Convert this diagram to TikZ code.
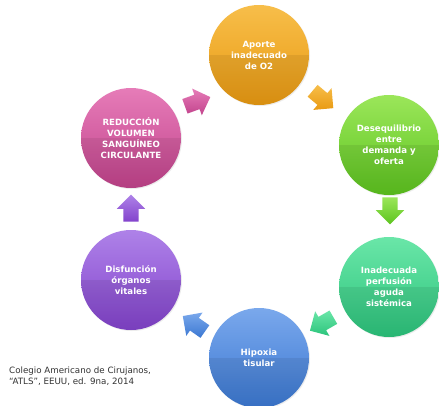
\documentclass[tikz,border=0pt]{standalone}
\usepackage{fontspec}
\setmainfont{DejaVu Sans}
\usetikzlibrary{shapes.arrows,shadows}
\definecolor{orT}{HTML}{F7BE4A}\definecolor{orB}{HTML}{E99A12}
\definecolor{grT}{HTML}{9BE65A}\definecolor{grB}{HTML}{5DC41F}
\definecolor{tlT}{HTML}{6AE6A8}\definecolor{tlB}{HTML}{2CC47C}
\definecolor{blT}{HTML}{7AA8EC}\definecolor{blB}{HTML}{3B78D2}
\definecolor{puT}{HTML}{AE82E8}\definecolor{puB}{HTML}{8343CC}
\definecolor{pkT}{HTML}{E67CB8}\definecolor{pkB}{HTML}{C2438C}
\definecolor{captxt}{HTML}{333333}
\tikzset{
  stage/.style n args={2}{circle, minimum size=100pt, inner sep=0pt, top color=#1, bottom color=#2,
    text=white, font=\fontsize{8.6}{11}\selectfont\bfseries, align=center, text width=80pt,
    path picture={\fill[black,opacity=0.07] (path picture bounding box.west) rectangle (path picture bounding box.south east);},
    drop shadow={opacity=0.15, shadow xshift=1pt, shadow yshift=-1pt}},
  flowarrow/.style n args={2}{single arrow, minimum height=27pt, single arrow head extend=6.5pt,
    inner sep=0pt, top color=#1, bottom color=#2, draw=none}
}
\newcommand{\shaft}{\rule{0pt}{15pt}}
\begin{document}
\begin{tikzpicture}[x=1pt,y=-1pt]
\useasboundingbox (0,0) rectangle (439,405);
\fill[white] (0,0) rectangle (439,405);
\node[stage={orT}{orB}] (aporte) at (259,55) {Aporte\\inadecuado\\de O2};
\node[stage={grT}{grB}] (deseq) at (389,145) {Desequilibrio\\entre\\demanda y\\oferta};
\node[stage={tlT}{tlB}] (perf) at (389,287) {Inadecuada\\perfusión\\aguda\\sistémica};
\node[stage={blT}{blB}] (hipox) at (259,358) {Hipoxia\\tisular};
\node[stage={puT}{puB}] (disf) at (131,280) {Disfunción\\órganos\\vitales};
\node[stage={pkT}{pkB}] (reduc) at (131,138) {REDUCCIÓN\\VOLUMEN\\SANGUÍNEO\\CIRCULANTE};
\node[flowarrow={orT}{orB}, rotate=-40] (a1) at (320,97) {\shaft};
\node[flowarrow={grT}{grB}, rotate=-90] (a2) at (390,207) {\shaft};
\node[flowarrow={tlT}{tlB}, rotate=-150] (a3) at (325,322) {\shaft};
\node[flowarrow={blT}{blB}, rotate=145] (a4) at (197,326) {\shaft};
\node[flowarrow={puT}{puB}, rotate=90] (a5) at (131,212) {\shaft};
\node[flowarrow={pkT}{pkB}, rotate=20] (a6) at (194,103) {\shaft};
\node[anchor=north west, align=left, text=captxt, font=\fontsize{8.7}{10.5}\selectfont, inner sep=0pt] (cap) at (9,367)
  {Colegio Americano de Cirujanos,\\“ATLS”, EEUU, ed. 9na, 2014};
\end{tikzpicture}
\end{document}
